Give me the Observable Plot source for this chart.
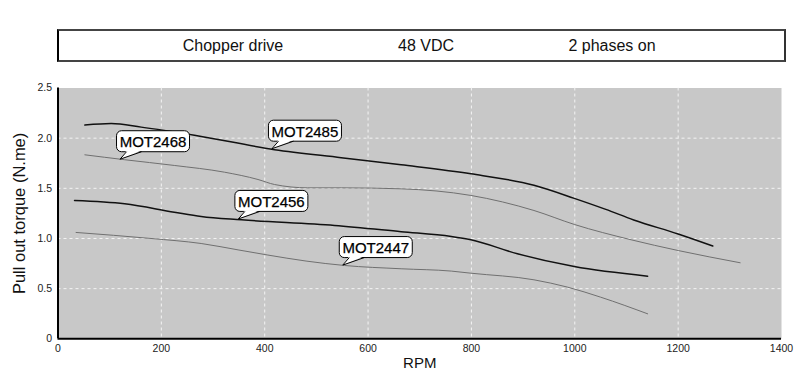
<!DOCTYPE html>
<html>
<head>
<meta charset="utf-8">
<script src="https://cdn.jsdelivr.net/npm/d3@7"></script>
<script src="https://cdn.jsdelivr.net/npm/@observablehq/plot@0.6"></script>
<style>
  html, body { margin: 0; padding: 0; background: white; }
  body { width: 800px; height: 369px; overflow: hidden; font-family: "Liberation Sans", Arial, sans-serif; }
  #head { position: relative; height: 62px; }
  #box { position: absolute; left: 57px; top: 29px; width: 729px; height: 33px; box-sizing: border-box;
         border: 2px solid #444; border-left-color: #000; border-right-color: #333; }
  #head span { position: absolute; top: 45.5px; transform: translate(-50%, -50%); font-size: 16px; color: #111; white-space: nowrap; }
  #chart svg { display: block; }
</style>
</head>
<body>
<div id="head">
  <div id="box"></div>
</div>
<div id="chart"></div>
<script>
// ---- data ----
const headerTexts = ["Chopper drive", "48 VDC", "2 phases on"];
const xTicks = [0, 200, 400, 600, 800, 1000, 1200, 1400];
const yTicks = [0, 0.5, 1.0, 1.5, 2.0, 2.5];
const xLabel = "RPM";
const yLabel = "Pull out torque (N.me)";

const rpm2485 = [52, 103, 161, 264, 419, 548, 664, 799, 921, 999, 1060, 1114, 1200, 1267];
const tq2485  = [2.13, 2.145, 2.11, 2.03, 1.885, 1.805, 1.735, 1.645, 1.53, 1.40, 1.29, 1.185, 1.045, 0.925];

const rpm2468 = [52, 129, 225, 322, 387, 419, 483, 548, 664, 799, 921, 999, 1109, 1200, 1320];
const tq2468  = [1.834, 1.785, 1.728, 1.661, 1.588, 1.538, 1.505, 1.505, 1.495, 1.429, 1.279, 1.14, 0.987, 0.88, 0.758];

const rpm2456 = [32, 129, 225, 277, 355, 535, 664, 761, 799, 889, 999, 1141];
const tq2456  = [1.379, 1.346, 1.262, 1.219, 1.186, 1.13, 1.068, 1.02, 0.987, 0.847, 0.72, 0.624];

const rpm2447 = [35, 180, 277, 350, 406, 480, 554, 664, 761, 799, 921, 986, 1050, 1141];
const tq2447  = [1.06, 1.0, 0.95, 0.885, 0.835, 0.775, 0.731, 0.698, 0.675, 0.654, 0.588, 0.515, 0.415, 0.249];

const seriesNames = ["MOT2485", "MOT2468", "MOT2456", "MOT2447"];
const calloutRpm = [415, 121, 350, 552];
const calloutTq  = [1.89, 1.785, 1.19, 0.73];

// ---- header ----
const headerX = [233, 426, 612];
const head = document.getElementById("head");
headerTexts.forEach((t, i) => {
  const s = document.createElement("span");
  s.textContent = t;
  s.style.left = headerX[i] + "px";
  head.appendChild(s);
});

// ---- build tables ----
const font = "'Liberation Sans', Arial, sans-serif";
const toRows = (name, xs, ys) => xs.map((x, i) => ({name, rpm: x, tq: ys[i]}));
const lines = [
  {rows: toRows("MOT2485", rpm2485, tq2485), stroke: "#111", w: 1.5},
  {rows: toRows("MOT2468", rpm2468, tq2468), stroke: "#707070", w: 1},
  {rows: toRows("MOT2456", rpm2456, tq2456), stroke: "#111", w: 1.5},
  {rows: toRows("MOT2447", rpm2447, tq2447), stroke: "#707070", w: 1}
];
const callouts = seriesNames.map((n, i) => ({label: n, rpm: calloutRpm[i], tq: calloutTq[i]}));

function calloutRender(index, scales, values) {
  const g = d3.create("svg:g");
  for (const i of index) {
    const tx = values.x[i], ty = values.y[i];
    const w = 73, h = 21;
    const left = tx - 3.5, bottom = ty - 7.5;
    g.append("rect").attr("x", left).attr("y", bottom - h).attr("width", w).attr("height", h)
      .attr("rx", 5).attr("fill", "white").attr("stroke", "#000").attr("stroke-width", 1);
    g.append("path").attr("d", `M${left + 10},${bottom - 1.2}L${tx},${ty}L${left + 25},${bottom - 1.2}Z`)
      .attr("fill", "white").attr("stroke", "none");
    g.append("path").attr("d", `M${left + 10},${bottom}L${tx},${ty}L${left + 25},${bottom}`)
      .attr("fill", "none").attr("stroke", "#000").attr("stroke-width", 1);
    g.append("text").attr("x", left + w / 2).attr("y", bottom - h / 2 + 0.5)
      .attr("text-anchor", "middle").attr("dominant-baseline", "central")
      .attr("font-size", 15).attr("font-family", font).attr("fill", "#000")
      .attr("stroke", "#000").attr("stroke-width", 0.25)
      .text(callouts[i].label);
  }
  return g.node();
}

const chart = Plot.plot({
  width: 800,
  height: 307,
  marginTop: 25.5,
  marginBottom: 30.7,
  marginLeft: 57.5,
  marginRight: 19,
  x: {domain: [0, 1400]},
  y: {domain: [0, 2.5]},
  style: {fontFamily: font, fontSize: "10.5px", color: "#222", background: "white", overflow: "visible"},
  marks: [
    Plot.frame({fill: "#c8c8c8", stroke: "none"}),
    Plot.gridX({ticks: xTicks.slice(1, -1), stroke: "#f4f4f4", strokeOpacity: 1, strokeDasharray: "3,3"}),
    Plot.gridY({ticks: yTicks.slice(1, -1), stroke: "#f4f4f4", strokeOpacity: 1, strokeDasharray: "3,3"}),
    Plot.axisX({ticks: xTicks, tickSize: 0, tickPadding: 6, label: null, tickFormat: d => String(d)}),
    Plot.axisY({ticks: yTicks, tickSize: 0, tickPadding: 6, label: null, tickFormat: d => d === 0 ? "0" : d.toFixed(1)}),
    ...lines.map(s => Plot.line(s.rows, {x: "rpm", y: "tq", stroke: s.stroke, strokeWidth: s.w, curve: "monotone-x"})),
    Plot.ruleX([0], {stroke: "#000", strokeWidth: 2}),
    Plot.ruleY([0], {stroke: "#000", strokeWidth: 2}),
    Plot.text([xLabel], {frameAnchor: "bottom", dy: 24, fontSize: 15, fill: "#111", lineAnchor: "middle", textAnchor: "middle"}),
    Plot.text([yLabel], {frameAnchor: "left", dx: -38, rotate: -90, fontSize: 16.5, fill: "#111", lineAnchor: "middle", textAnchor: "middle"}),
    Plot.text(callouts, {x: "rpm", y: "tq", text: "label", render: calloutRender})
  ]
});
document.getElementById("chart").appendChild(chart);
</script>
</body>
</html>
